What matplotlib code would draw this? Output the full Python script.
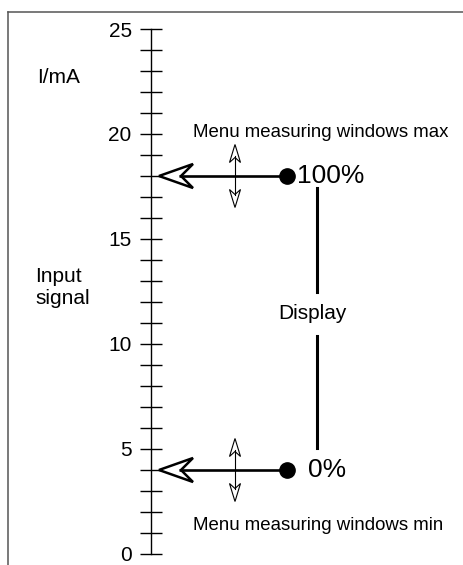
import matplotlib
matplotlib.use('Agg')
import matplotlib.pyplot as plt
from matplotlib.patches import Polygon
from matplotlib.lines import Line2D

plt.rcParams['font.family'] = ['Liberation Sans', 'DejaVu Sans']

# scale of the input signal (mA)
scale_min, scale_max = 0, 25
major_ticks = [0, 5, 10, 15, 20, 25]
minor_ticks = list(range(0, 26))

# the two display levels
levels = [18, 4]
level_labels = ['100%', '0%']
menu_labels = ['Menu measuring windows max', 'Menu measuring windows min']
menu_offsets = [1.86, -2.86]

fig = plt.figure(figsize=(4.64, 5.65), dpi=100)
ax = fig.add_axes([0, 0, 1, 1])
ax.set_xlim(0, 464)
ax.set_ylim(-0.524, 26.381)
ax.patch.set_alpha(0)

# frame (top + left only)
fig.add_artist(Line2D([8.5 / 464, 1], [1 - 11.5 / 565] * 2, color='#555555', lw=1.1,
                      transform=fig.transFigure))
fig.add_artist(Line2D([8.5 / 464] * 2, [0, 1 - 11.5 / 565], color='#555555', lw=1.1,
                      transform=fig.transFigure))

# scale axis
axis_x = 151
for s in ['top', 'right', 'bottom']:
    ax.spines[s].set_visible(False)
ax.spines['left'].set_position(('data', axis_x))
ax.spines['left'].set_bounds(scale_min, scale_max)
ax.spines['left'].set_linewidth(1.0)
ax.set_yticks(major_ticks)
ax.set_yticks(minor_ticks, minor=True)
ax.tick_params(axis='y', which='both', direction='inout', length=15.8, width=1.0,
               color='black')
ax.tick_params(axis='y', which='major', labelsize=15, pad=6.0)
ax.set_xticks([])

ax.text(37, 22.43, 'I/mA', fontsize=15, ha='left', va='baseline')
ax.text(35, 12.7, 'Input\nsignal', fontsize=15, ha='left', va='center', linespacing=1.2)

dot_x = 287
tip_x = 159
vert_x = 235
disp_x = 317
text_x = 193
px = 1 / 21.0  # one pixel in mA units

for lev, lab, mlab, moff in zip(levels, level_labels, menu_labels, menu_offsets):
    # horizontal pointer
    ax.plot([tip_x + 20, dot_x], [lev, lev], color='black', lw=1.9, solid_capstyle='butt')
    ax.plot([dot_x], [lev], 'o', color='black', ms=11)
    head = Polygon([(tip_x, lev), (tip_x + 34, lev + 12 * px), (tip_x + 22, lev),
                    (tip_x + 34, lev - 12 * px)], closed=True, facecolor='white',
                   edgecolor='black', lw=1.8, joinstyle='miter')
    ax.add_patch(head)
    # double-headed vertical arrow
    half = 31.5 * px
    ax.plot([vert_x, vert_x], [lev - half + 12 * px, lev + half - 12 * px], color='black', lw=0.8)
    for sgn in (1, -1):
        tip = lev + sgn * half
        h = Polygon([(vert_x, tip), (vert_x - 5.5, tip - sgn * 18 * px),
                     (vert_x, tip - sgn * 13 * px), (vert_x + 5.5, tip - sgn * 18 * px)],
                    closed=True, facecolor='white', edgecolor='black', lw=0.8)
        ax.add_patch(h)
    ax.text(text_x, lev + moff, mlab, fontsize=13.4, ha='left', va='baseline')

ax.text(dot_x + 10, levels[0], level_labels[0], fontsize=19, ha='left', va='center')
ax.text(dot_x + 21, levels[1], level_labels[1], fontsize=19, ha='left', va='center')

# display bracket
disp_mid = 11.43
ax.plot([disp_x, disp_x], [levels[0] - 0.55, disp_mid + 1.05], color='black', lw=2.2)
ax.plot([disp_x, disp_x], [disp_mid - 1.05, levels[1] + 1.05], color='black', lw=2.2)
ax.text(disp_x - 5, disp_mid, 'Display', fontsize=15, ha='center', va='center')

fig.savefig('out.png', dpi=100, facecolor='white')
